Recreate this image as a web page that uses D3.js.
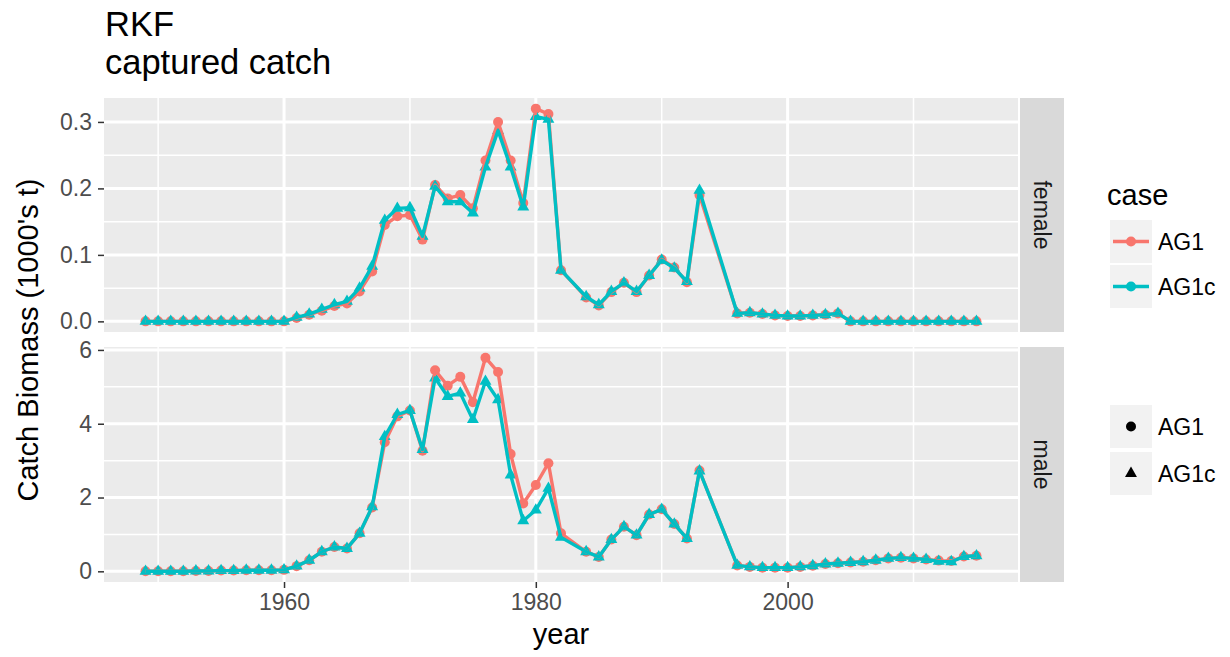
<!DOCTYPE html>
<html>
<head>
<meta charset="utf-8">
<script src="https://cdn.jsdelivr.net/npm/d3@7"></script>
<style>
  html, body { margin: 0; padding: 0; background: #ffffff; }
  svg { display: block; font-family: "Liberation Sans", Arial, Helvetica, sans-serif; }
</style>
</head>
<body>
<svg id="chart" width="1230" height="657"></svg>
<script>
// ---------------- data ----------------
const years = [
  1949,1950,1951,1952,1953,1954,1955,1956,1957,1958,1959,1960,
  1961,1962,1963,1964,1965,1966,1967,1968,1969,1970,1971,1972,
  1973,1974,1975,1976,1977,1978,1979,1980,1981,1982,
  1984,1985,1986,1987,1988,1989,1990,1991,1992,1993,
  1996,1997,1998,1999,2000,2001,2002,2003,2004,2005,
  2006,2007,2008,2009,2010,2011,2012,2013,2014,2015
];
const cases = ["AG1", "AG1c"];
const sexes = ["female", "male"];

const femaleAG1 = [
  0,0,0,0,0,0,0,0,0,0,0,0,
  0.005,0.010,0.016,0.023,0.027,0.045,0.075,0.145,0.158,0.160,0.123,0.205,
  0.185,0.190,0.170,0.242,0.300,0.242,0.178,0.320,0.312,0.077,
  0.036,0.024,0.044,0.058,0.044,0.069,0.093,0.081,0.059,0.190,
  0.012,0.013,0.011,0.009,0.008,0.008,0.009,0.010,0.012,0,
  0,0,0,0,0,0,0,0,0,0
];
const femaleAG1c = [
  0,0,0,0,0,0,0,0,0,0,0,0,
  0.006,0.011,0.018,0.025,0.030,0.050,0.083,0.152,0.170,0.171,0.128,0.203,
  0.180,0.180,0.163,0.232,0.287,0.232,0.172,0.308,0.304,0.077,
  0.037,0.025,0.045,0.058,0.045,0.069,0.092,0.080,0.060,0.197,
  0.012,0.013,0.011,0.009,0.008,0.008,0.009,0.010,0.012,0,
  0,0,0,0,0,0,0,0,0,0
];
const maleAG1 = [
  0,0,0,0,0.01,0.01,0.02,0.02,0.03,0.03,0.03,0.04,
  0.14,0.30,0.53,0.66,0.62,1.03,1.73,3.50,4.20,4.36,3.27,5.45,
  5.03,5.27,4.58,5.79,5.40,3.18,1.84,2.34,2.93,1.03,
  0.53,0.39,0.86,1.21,0.98,1.54,1.68,1.28,0.89,2.73,
  0.16,0.12,0.10,0.10,0.10,0.12,0.15,0.20,0.22,0.24,
  0.26,0.30,0.35,0.37,0.35,0.32,0.29,0.28,0.40,0.42
];
const maleAG1c = [
  0,0,0,0,0.01,0.01,0.02,0.02,0.03,0.03,0.03,0.04,
  0.14,0.30,0.53,0.66,0.62,1.03,1.75,3.65,4.25,4.36,3.30,5.24,
  4.74,4.83,4.11,5.15,4.65,2.61,1.37,1.66,2.25,0.92,
  0.53,0.39,0.86,1.21,0.98,1.54,1.68,1.28,0.89,2.72,
  0.16,0.12,0.10,0.10,0.10,0.12,0.15,0.20,0.22,0.24,
  0.26,0.30,0.35,0.37,0.35,0.32,0.27,0.26,0.40,0.42
];

const yearTicks = [1960, 1980, 2000];
const femaleTicks = [0, 0.1, 0.2, 0.3];
const maleTicks = [0, 2, 4, 6];

const titleLines = ["RKF", "captured catch"];
const xTitle = "year";
const yTitle = "Catch Biomass (1000's t)";
const legendTitle = "case";

// ---------------- layout / style ----------------
const colors = { AG1: "#F8766D", AG1c: "#00BFC4" };
const svg = d3.select("#chart");
const panelLeft = 104, panelRight = 1018;
const stripX0 = 1020, stripX1 = 1064;
const panelsLayout = [
  { top: 98, bottom: 332 },
  { top: 347, bottom: 582 }
];
const tickFont = 23, titleFont = 29, plotTitleFont = 34.5;
const ptR = 5, triSize = 62, lineW = 3.4;

function expand(ext, f = 0.05) {
  const r = ext[1] - ext[0];
  return [ext[0] - r * f, ext[1] + r * f];
}
function minorsOf(majors, domain) {
  const step = majors[1] - majors[0];
  const out = [];
  const cand = [majors[0] - step / 2, ...majors.map(m => m + step / 2)];
  cand.forEach(c => { if (c > domain[0] && c < domain[1]) out.push(c); });
  return out;
}

const x = d3.scaleLinear().domain(expand(d3.extent(years))).range([panelLeft, panelRight]);
const xMinor = minorsOf(yearTicks, x.domain());

const panelData = [
  { sex: sexes[0], series: { AG1: femaleAG1, AG1c: femaleAG1c }, ticks: femaleTicks, fmt: d3.format(".1f") },
  { sex: sexes[1], series: { AG1: maleAG1, AG1c: maleAG1c }, ticks: maleTicks, fmt: d3.format("d") }
];

panelData.forEach((p, i) => {
  const L = panelsLayout[i];
  const all = p.series.AG1.concat(p.series.AG1c);
  const y = d3.scaleLinear().domain(expand([Math.min(0, d3.min(all)), d3.max(all)])).range([L.bottom, L.top]);
  const yMinor = minorsOf(p.ticks, y.domain());
  const g = svg.append("g");

  g.append("rect").attr("x", panelLeft).attr("y", L.top)
    .attr("width", panelRight - panelLeft).attr("height", L.bottom - L.top).attr("fill", "#EBEBEB");

  // minor grid
  g.selectAll(".ymin").data(yMinor).join("line")
    .attr("x1", panelLeft).attr("x2", panelRight)
    .attr("y1", d => y(d)).attr("y2", d => y(d))
    .attr("stroke", "#ffffff").attr("stroke-width", 1.5);
  g.selectAll(".xmin").data(xMinor).join("line")
    .attr("y1", L.top).attr("y2", L.bottom)
    .attr("x1", d => x(d)).attr("x2", d => x(d))
    .attr("stroke", "#ffffff").attr("stroke-width", 1.5);
  // major grid
  g.selectAll(".ymaj").data(p.ticks).join("line")
    .attr("x1", panelLeft).attr("x2", panelRight)
    .attr("y1", d => y(d)).attr("y2", d => y(d))
    .attr("stroke", "#ffffff").attr("stroke-width", 3);
  g.selectAll(".xmaj").data(yearTicks).join("line")
    .attr("y1", L.top).attr("y2", L.bottom)
    .attr("x1", d => x(d)).attr("x2", d => x(d))
    .attr("stroke", "#ffffff").attr("stroke-width", 3);

  // y axis
  const yAxis = d3.axisLeft(y).tickValues(p.ticks).tickFormat(p.fmt).tickSize(6).tickPadding(6);
  const ya = svg.append("g").attr("transform", `translate(${panelLeft},0)`).call(yAxis);
  ya.select(".domain").remove();
  ya.selectAll(".tick line").attr("stroke", "#333333").attr("stroke-width", 1.5);
  ya.selectAll(".tick text").attr("fill", "#4D4D4D").style("font-size", tickFont + "px")
    .style("font-family", '"Liberation Sans", Arial, sans-serif');

  const pts = years.map((yr, k) => ({ year: yr, AG1: p.series.AG1[k], AG1c: p.series.AG1c[k] }));

  // points
  g.selectAll(".ptAG1").data(pts).join("circle")
    .attr("cx", d => x(d.year)).attr("cy", d => y(d.AG1)).attr("r", ptR)
    .attr("fill", colors.AG1);
  const tri = d3.symbol().type(d3.symbolTriangle).size(triSize);
  g.selectAll(".ptAG1c").data(pts).join("path")
    .attr("d", tri)
    .attr("transform", d => `translate(${x(d.year)},${y(d.AG1c)})`)
    .attr("fill", colors.AG1c);

  // lines
  cases.forEach(c => {
    const line = d3.line().x(d => x(d.year)).y(d => y(d[c]));
    g.append("path").datum(pts).attr("d", line)
      .attr("fill", "none").attr("stroke", colors[c]).attr("stroke-width", lineW)
      .attr("stroke-linejoin", "round");
  });

  // strip
  svg.append("rect").attr("x", stripX0).attr("y", L.top)
    .attr("width", stripX1 - stripX0).attr("height", L.bottom - L.top).attr("fill", "#D9D9D9");
  const cy = (L.top + L.bottom) / 2, cx = (stripX0 + stripX1) / 2;
  svg.append("text").attr("transform", `translate(${cx},${cy}) rotate(90)`)
    .attr("text-anchor", "middle").attr("dy", "0.35em")
    .attr("fill", "#1A1A1A").style("font-size", tickFont + "px").text(p.sex);
});

// x axis (bottom panel only)
const xa = svg.append("g").attr("transform", `translate(0,${panelsLayout[1].bottom})`)
  .call(d3.axisBottom(x).tickValues(yearTicks).tickFormat(d3.format("d")).tickSize(6).tickPadding(6));
xa.select(".domain").remove();
xa.selectAll(".tick line").attr("stroke", "#333333").attr("stroke-width", 1.5);
xa.selectAll(".tick text").attr("fill", "#4D4D4D").style("font-size", tickFont + "px")
  .style("font-family", '"Liberation Sans", Arial, sans-serif');

// axis titles
svg.append("text").attr("x", (panelLeft + panelRight) / 2).attr("y", 644)
  .attr("text-anchor", "middle").attr("fill", "#000").style("font-size", titleFont + "px").text(xTitle);
svg.append("text").attr("transform", `translate(38,${(panelsLayout[0].top + panelsLayout[1].bottom) / 2}) rotate(-90)`)
  .attr("text-anchor", "middle").attr("fill", "#000").style("font-size", titleFont + "px").text(yTitle);

// plot title
titleLines.forEach((t, i) => {
  svg.append("text").attr("x", panelLeft + 1).attr("y", 36 + i * 38)
    .attr("fill", "#000").style("font-size", plotTitleFont + "px").text(t);
});

// legend: colour
const lgX = 1110, keyW = 42, keyH = 43;
svg.append("text").attr("x", lgX - 3).attr("y", 205).attr("fill", "#000")
  .style("font-size", titleFont + "px").text(legendTitle);
const lg1 = svg.append("g");
cases.forEach((c, i) => {
  const ky = 220 + i * (keyH + 2);
  lg1.append("rect").attr("x", lgX).attr("y", ky).attr("width", keyW).attr("height", keyH).attr("fill", "#F2F2F2");
  lg1.append("line").attr("x1", lgX + 3).attr("x2", lgX + keyW - 3)
    .attr("y1", ky + keyH / 2).attr("y2", ky + keyH / 2)
    .attr("stroke", colors[c]).attr("stroke-width", lineW);
  lg1.append("circle").attr("cx", lgX + keyW / 2).attr("cy", ky + keyH / 2).attr("r", ptR).attr("fill", colors[c]);
  lg1.append("text").attr("x", lgX + keyW + 6).attr("y", ky + keyH / 2).attr("dy", "0.35em")
    .attr("fill", "#000").style("font-size", tickFont + "px").text(c);
});
// legend: shape
const lg2 = svg.append("g");
cases.forEach((c, i) => {
  const ky = 405 + i * (keyH + 4);
  lg2.append("rect").attr("x", lgX).attr("y", ky).attr("width", keyW).attr("height", keyH).attr("fill", "#F2F2F2");
  if (i === 0) {
    lg2.append("circle").attr("cx", lgX + keyW / 2).attr("cy", ky + keyH / 2).attr("r", ptR).attr("fill", "#000");
  } else {
    lg2.append("path").attr("d", d3.symbol().type(d3.symbolTriangle).size(triSize))
      .attr("transform", `translate(${lgX + keyW / 2},${ky + keyH / 2})`).attr("fill", "#000");
  }
  lg2.append("text").attr("x", lgX + keyW + 6).attr("y", ky + keyH / 2).attr("dy", "0.35em")
    .attr("fill", "#000").style("font-size", tickFont + "px").text(c);
});
</script>
</body>
</html>
